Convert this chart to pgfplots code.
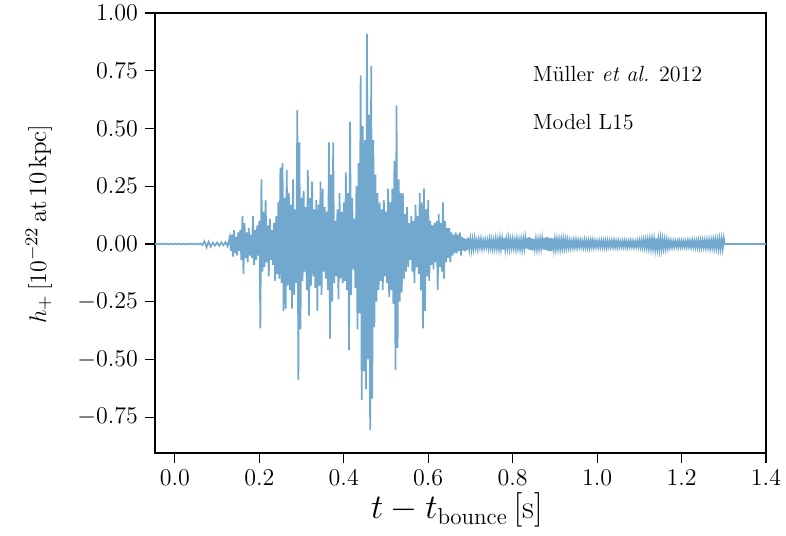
\documentclass[border=0pt]{standalone}
\usepackage{fontspec}
\usepackage{pgfplots}
\pgfplotsset{compat=1.18}
\definecolor{wave}{RGB}{114,167,206}
\begin{document}
\begin{tikzpicture}
\path[use as bounding box] (-77.5pt,-41pt) rectangle (315.5pt,226.5pt);
\begin{axis}[
  at={(0,0)}, anchor=south west,
  scale only axis, width=305.5pt, height=220pt,
  xmin=-0.047, xmax=1.4, ymin=-0.905, ymax=1.0,
  xtick={0,0.2,0.4,0.6,0.8,1.0,1.2,1.4},
  ytick={-0.75,-0.5,-0.25,0,0.25,0.5,0.75,1.0},
  tick label style={font=\fontsize{11.8}{14}\selectfont},
  x tick label style={/pgf/number format/fixed,/pgf/number format/fixed zerofill,/pgf/number format/precision=1},
  y tick label style={/pgf/number format/fixed,/pgf/number format/fixed zerofill,/pgf/number format/precision=2},
  tick pos=left, tick align=outside, major tick length=5pt,
  tick style={black, line width=0.6pt},
  axis line style={line width=0.7pt},
  xlabel={$t - t_{\mathrm{bounce}}\,[\mathrm{s}]$},
  ylabel={$h_{+}\,[10^{-22}\mathrm{\,at\,10\,kpc}]$},
  x label style={at={(axis description cs:0.494,-0.13)}, anchor=center, font=\fontsize{16.5}{20}\selectfont},
  y label style={at={(axis description cs:-0.19,0.52)}, anchor=center, font=\fontsize{12.5}{15}\selectfont},
  clip=true,
]
\addplot[wave, line width=0.85pt] coordinates {
(-0.050,0.0015) (-0.045,-0.0015) (-0.040,0.001) (-0.035,-0.0015) (-0.030,0.0015) (-0.025,-0.001)
(-0.020,0.0015) (-0.015,-0.0015) (-0.010,0.001) (-0.005,-0.0015) (0.000,0.0015) (0.005,-0.001)
(0.010,0.0015) (0.015,-0.0015) (0.020,0.001) (0.025,-0.0015) (0.030,0.0015) (0.035,-0.001)
(0.040,0.0015) (0.045,-0.002) (0.050,0.0015) (0.055,-0.002) (0.060,0.002) (0.065,-0.004)
(0.070,0.012) (0.075,-0.014) (0.080,0.010) (0.085,-0.012) (0.090,0.006) (0.095,-0.007)
(0.100,0.006) (0.105,-0.008) (0.110,0.007) (0.115,-0.006) (0.120,0.008) (0.125,-0.010)
(0.130,0.03) (0.1325,-0.03) (0.135,0.04) (0.1375,-0.055) (0.140,0.06) (0.1425,-0.04)
(0.145,0.03) (0.1475,-0.05) (0.150,0.05) (0.1525,-0.03) (0.155,0.06) (0.1575,-0.07)
(0.160,0.12) (0.1625,-0.13) (0.165,0.09) (0.1675,-0.06) (0.170,0.05) (0.1725,-0.08)
(0.175,0.07) (0.1775,-0.05) (0.180,0.04) (0.1825,-0.06) (0.185,0.12) (0.1875,-0.09)
(0.190,0.06) (0.1925,-0.07) (0.195,0.08) (0.1975,-0.05) (0.200,0.10) (0.2025,-0.365)
(0.205,0.28) (0.2075,-0.12) (0.210,0.14) (0.2125,-0.10) (0.215,0.19) (0.2175,-0.08)
(0.220,0.08) (0.2225,-0.14) (0.225,0.11) (0.2275,-0.07) (0.230,0.06) (0.2325,-0.09)
(0.235,0.09) (0.2375,-0.16) (0.240,0.12) (0.2425,-0.13) (0.245,0.18) (0.2475,-0.15)
(0.250,0.33) (0.2525,-0.17) (0.255,0.35) (0.2575,-0.29) (0.260,0.20) (0.2625,-0.28)
(0.265,0.32) (0.2675,-0.18) (0.270,0.22) (0.2725,-0.20) (0.275,0.17) (0.2775,-0.28)
(0.280,0.28) (0.2825,-0.22) (0.285,0.15) (0.2875,-0.17) (0.290,0.58) (0.2925,-0.59)
(0.295,0.44) (0.2975,-0.37) (0.300,0.20) (0.3025,-0.16) (0.305,0.23) (0.3075,-0.12)
(0.310,0.16) (0.3125,-0.20) (0.315,0.32) (0.3175,-0.31) (0.320,0.20) (0.3225,-0.18)
(0.325,0.27) (0.3275,-0.14) (0.330,0.15) (0.3325,-0.19) (0.335,0.19) (0.3375,-0.29)
(0.340,0.17) (0.3425,-0.18) (0.345,0.27) (0.3475,-0.22) (0.350,0.24) (0.3525,-0.12)
(0.355,0.16) (0.3575,-0.15) (0.360,0.14) (0.3625,-0.20) (0.365,0.44) (0.3675,-0.41)
(0.370,0.30) (0.3725,-0.25) (0.375,0.44) (0.3775,-0.17) (0.380,0.10) (0.3825,-0.14)
(0.385,0.15) (0.3875,-0.24) (0.390,0.22) (0.3925,-0.15) (0.395,0.14) (0.3975,-0.17)
(0.400,0.18) (0.4025,-0.16) (0.405,0.31) (0.4075,-0.20) (0.410,0.22) (0.4125,-0.46)
(0.415,0.53) (0.4175,-0.22) (0.420,0.20) (0.4225,-0.11) (0.425,0.11) (0.4275,-0.19)
(0.430,0.25) (0.4325,-0.37) (0.435,0.35) (0.4375,-0.30) (0.440,0.73) (0.4425,-0.675)
(0.445,0.51) (0.4475,-0.55) (0.450,0.45) (0.4525,-0.63) (0.455,0.91) (0.4575,-0.50)
(0.460,0.56) (0.4625,-0.805) (0.465,0.77) (0.4675,-0.67) (0.470,0.45) (0.4725,-0.36)
(0.475,0.30) (0.4775,-0.25) (0.480,0.22) (0.4825,-0.20) (0.485,0.18) (0.4875,-0.16)
(0.490,0.15) (0.4925,-0.20) (0.495,0.19) (0.4975,-0.14) (0.500,0.14) (0.5025,-0.17)
(0.505,0.24) (0.5075,-0.23) (0.510,0.18) (0.5125,-0.20) (0.515,0.24) (0.5175,-0.26)
(0.520,0.36) (0.5225,-0.545) (0.525,0.60) (0.5275,-0.45) (0.530,0.28) (0.5325,-0.25)
(0.535,0.22) (0.5375,-0.21) (0.540,0.22) (0.5425,-0.15) (0.545,0.13) (0.5475,-0.12)
(0.550,0.16) (0.5525,-0.10) (0.555,0.09) (0.5575,-0.07) (0.560,0.12) (0.5625,-0.12)
(0.565,0.10) (0.5675,-0.17) (0.570,0.17) (0.5725,-0.10) (0.575,0.12) (0.5775,-0.13)
(0.580,0.22) (0.5825,-0.20) (0.585,0.18) (0.5875,-0.365) (0.590,0.24) (0.5925,-0.29)
(0.595,0.15) (0.5975,-0.14) (0.600,0.19) (0.6025,-0.16) (0.605,0.10) (0.6075,-0.09)
(0.610,0.08) (0.6125,-0.11) (0.615,0.09) (0.6175,-0.08) (0.620,0.10) (0.6225,-0.20)
(0.625,0.13) (0.6275,-0.10) (0.630,0.09) (0.6325,-0.12) (0.635,0.18) (0.6375,-0.15)
(0.640,0.10) (0.6425,-0.08) (0.645,0.07) (0.6475,-0.06) (0.650,0.07) (0.6525,-0.08)
(0.655,0.05) (0.6575,-0.05) (0.660,0.04) (0.6625,-0.04) (0.665,0.05) (0.6675,-0.04)
(0.670,0.04) (0.6725,-0.03) (0.675,0.05) (0.6775,-0.05)
(0.680,0.030) (0.6825,-0.028) (0.685,0.025) (0.6875,-0.032) (0.690,0.022) (0.6925,-0.026) (0.695,0.028) (0.6975,-0.020)
(0.700,0.020) (0.7025,-0.024) (0.705,0.018) (0.7075,-0.020) (0.710,0.022) (0.7125,-0.016) (0.715,0.015) (0.7175,-0.020)
(0.720,0.018) (0.7225,-0.014) (0.725,0.020) (0.7275,-0.018) (0.730,0.014) (0.7325,-0.016) (0.735,0.017) (0.7375,-0.013)
(0.740,0.015) (0.7425,-0.018) (0.745,0.020) (0.7475,-0.015) (0.750,0.018) (0.7525,-0.020) (0.755,0.016) (0.7575,-0.018)
(0.760,0.022) (0.7625,-0.017) (0.765,0.019) (0.7675,-0.021) (0.770,0.024) (0.7725,-0.020) (0.775,0.021) (0.7775,-0.024)
(0.780,0.026) (0.7825,-0.022) (0.785,0.020) (0.7875,-0.018) (0.790,0.023) (0.7925,-0.020) (0.795,0.018) (0.7975,-0.016)
(0.800,0.020) (0.8025,-0.017) (0.805,0.016) (0.8075,-0.020) (0.810,0.021) (0.8125,-0.018) (0.815,0.017) (0.8175,-0.020)
(0.820,0.019) (0.8225,-0.021) (0.825,0.022) (0.8275,-0.018) (0.830,0.025) (0.8325,-0.020) (0.835,0.027) (0.8375,-0.024)
(0.840,0.030) (0.8425,-0.026) (0.845,0.024) (0.8475,-0.028) (0.850,0.022) (0.8525,-0.020) (0.855,0.020) (0.8575,-0.022)
(0.860,0.018) (0.8625,-0.020) (0.865,0.021) (0.8675,-0.018) (0.870,0.022) (0.8725,-0.024) (0.875,0.026) (0.8775,-0.025)
(0.880,0.030) (0.8825,-0.028) (0.885,0.027) (0.8875,-0.032) (0.890,0.026) (0.8925,-0.030) (0.895,0.024) (0.8975,-0.022)
(0.900,0.020) (0.9025,-0.022) (0.905,0.019) (0.9075,-0.020) (0.910,0.018) (0.9125,-0.021) (0.915,0.020) (0.9175,-0.018)
(0.920,0.021) (0.9225,-0.017) (0.925,0.018) (0.9275,-0.016) (0.930,0.017) (0.9325,-0.015) (0.935,0.014) (0.9375,-0.016)
(0.940,0.013) (0.9425,-0.015) (0.945,0.016) (0.9475,-0.014) (0.950,0.017) (0.9525,-0.015) (0.955,0.014) (0.9575,-0.013)
(0.960,0.015) (0.9625,-0.013) (0.965,0.012) (0.9675,-0.014) (0.970,0.016) (0.9725,-0.014) (0.975,0.013) (0.9775,-0.015)
(0.980,0.014) (0.9825,-0.016) (0.985,0.015) (0.9875,-0.013) (0.990,0.016) (0.9925,-0.014) (0.995,0.013) (0.9975,-0.012)
(1.000,0.012) (1.0025,-0.014) (1.005,0.013) (1.0075,-0.012) (1.010,0.015) (1.0125,-0.013) (1.015,0.012) (1.0175,-0.014)
(1.020,0.013) (1.0225,-0.015) (1.025,0.014) (1.0275,-0.012) (1.030,0.012) (1.0325,-0.013) (1.035,0.014) (1.0375,-0.012)
(1.040,0.015) (1.0425,-0.013) (1.045,0.012) (1.0475,-0.014) (1.050,0.013) (1.0525,-0.012) (1.055,0.011) (1.0575,-0.012)
(1.060,0.012) (1.0625,-0.011) (1.065,0.013) (1.0675,-0.012) (1.070,0.012) (1.0725,-0.013) (1.075,0.011) (1.0775,-0.012)
(1.080,0.013) (1.0825,-0.012) (1.085,0.012) (1.0875,-0.013) (1.090,0.011) (1.0925,-0.012) (1.095,0.013) (1.0975,-0.012)
(1.100,0.014) (1.1025,-0.013) (1.105,0.015) (1.1075,-0.014) (1.110,0.017) (1.1125,-0.015) (1.115,0.018) (1.1175,-0.016)
(1.120,0.019) (1.1225,-0.018) (1.125,0.020) (1.1275,-0.019) (1.130,0.022) (1.1325,-0.020) (1.135,0.021) (1.1375,-0.023)
(1.140,0.024) (1.1425,-0.022) (1.145,0.020) (1.1475,-0.024) (1.150,0.023) (1.1525,-0.021) (1.155,0.020) (1.1575,-0.019)
(1.160,0.018) (1.1625,-0.019) (1.165,0.016) (1.1675,-0.017) (1.170,0.015) (1.1725,-0.014) (1.175,0.013) (1.1775,-0.014)
(1.180,0.012) (1.1825,-0.013) (1.185,0.012) (1.1875,-0.011) (1.190,0.012) (1.1925,-0.013) (1.195,0.012) (1.1975,-0.011)
(1.200,0.013) (1.2025,-0.012) (1.205,0.011) (1.2075,-0.012) (1.210,0.012) (1.2125,-0.013) (1.215,0.014) (1.2175,-0.012)
(1.220,0.013) (1.2225,-0.014) (1.225,0.015) (1.2275,-0.013) (1.230,0.014) (1.2325,-0.015) (1.235,0.013) (1.2375,-0.014)
(1.240,0.015) (1.2425,-0.016) (1.245,0.014) (1.2475,-0.015) (1.250,0.016) (1.2525,-0.014) (1.255,0.015) (1.2575,-0.016)
(1.260,0.017) (1.2625,-0.015) (1.265,0.016) (1.2675,-0.018) (1.270,0.017) (1.2725,-0.016) (1.275,0.018) (1.2775,-0.017)
(1.280,0.019) (1.2825,-0.017) (1.285,0.018) (1.2875,-0.020) (1.290,0.021) (1.2925,-0.019) (1.295,0.022) (1.2975,-0.020)
(1.300,0.024) (1.302,0)
(1.400,0)
};
\node[anchor=west, font=\fontsize{11}{13}\selectfont] at (axis description cs:0.607,0.861) {Müller \textit{et al.} 2012};
\node[anchor=west, font=\fontsize{11}{13}\selectfont] at (axis description cs:0.607,0.752) {Model L15};
\end{axis}
\end{tikzpicture}
\end{document}
